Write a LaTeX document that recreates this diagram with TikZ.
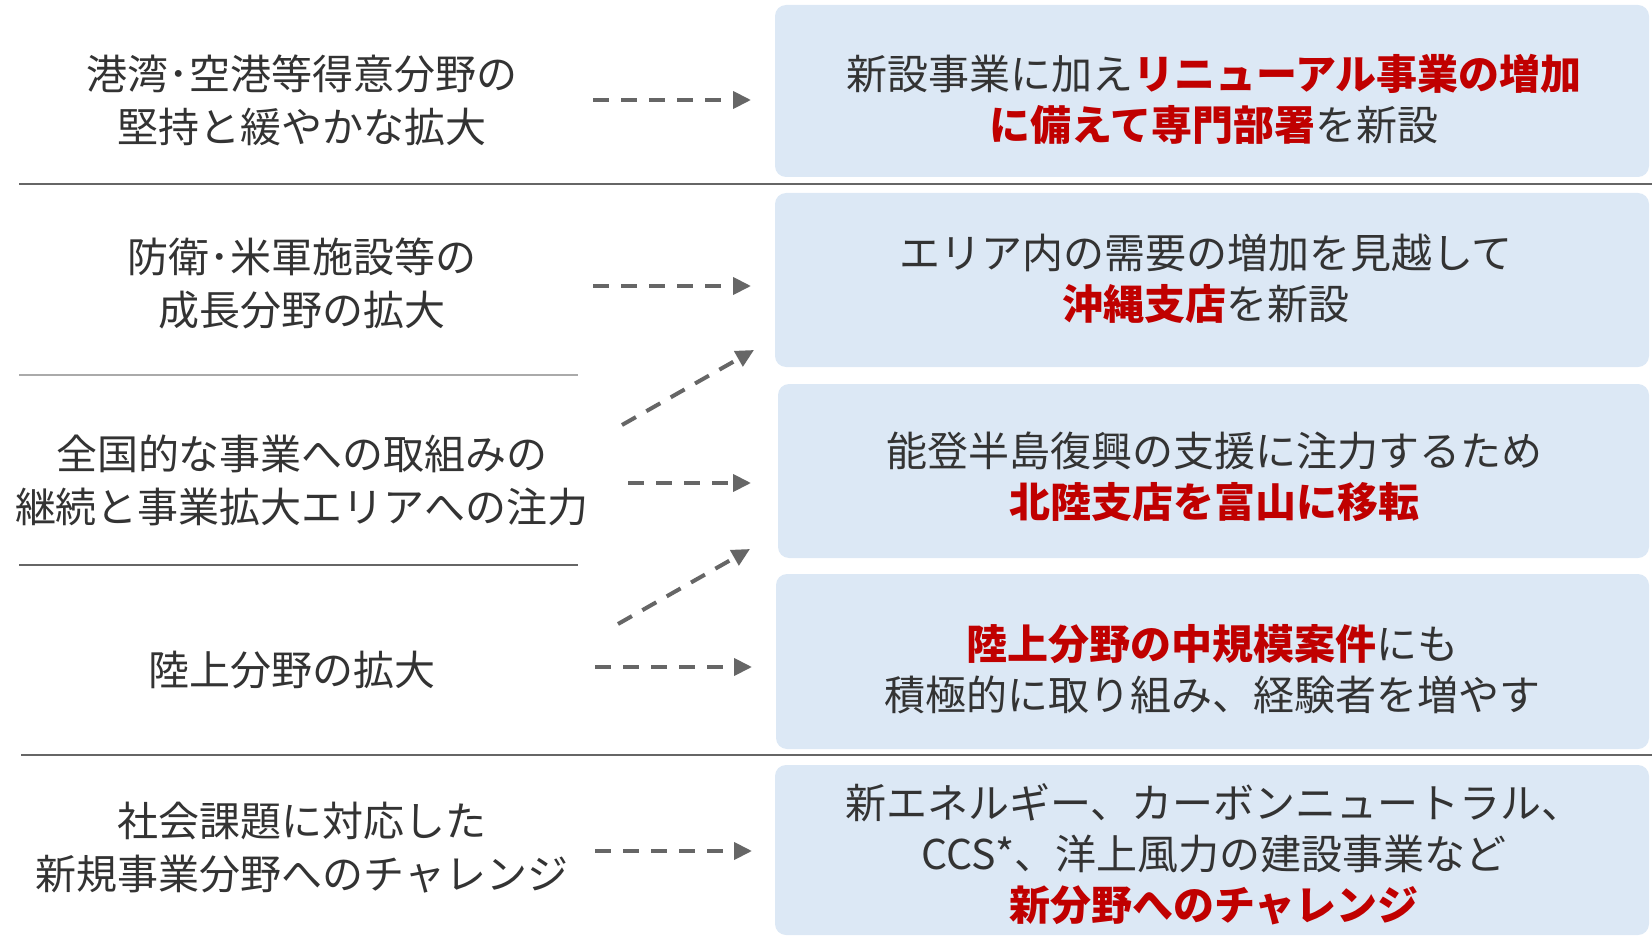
\documentclass[tikz,border=0pt]{standalone}
\usepackage{fontspec}
\setmainfont{Noto Sans CJK JP}
\usetikzlibrary{arrows.meta}
\definecolor{txt}{HTML}{333333}
\definecolor{accent}{HTML}{C00000}
\definecolor{boxfill}{HTML}{DCE8F5}
\definecolor{arr}{HTML}{666666}
\definecolor{sepdark}{HTML}{666666}
\definecolor{seplight}{HTML}{AAAAAA}
\newcommand\rd[1]{\textbf{\color{accent}#1}}
\tikzset{
  bluebox/.style={fill=boxfill, draw=none, rounded corners=11pt, inner sep=0pt},
  lbl/.style={align=center, text=txt, inner sep=0pt, font=\fontsize{41pt}{53pt}\selectfont},
  rbl/.style={align=center, text=txt, inner sep=0pt, font=\fontsize{41pt}{51pt}\selectfont},
  darrow/.style={draw=arr, line width=4pt, dash pattern=on 16pt off 12pt,
     -{Triangle[length=18pt,width=17pt]}},
  sepline/.style={draw=sepdark, line width=2pt},
  seplite/.style={draw=seplight, line width=2pt}
}
\begin{document}
\begin{tikzpicture}[x=1pt,y=-1pt]
\useasboundingbox (0,0) rectangle (1652,936);
% boxes
\path[bluebox] (775,5) rectangle (1649,177);
\path[bluebox] (775,193) rectangle (1649,367);
\path[bluebox] (778,384) rectangle (1649,558);
\path[bluebox] (776,574) rectangle (1649,749);
\path[bluebox] (775,765) rectangle (1649,935);
% separators
\draw[sepline] (19,184) -- (1652,184);
\draw[seplite] (19,375) -- (578,375);
\draw[sepline] (19,565) -- (578,565);
\draw[sepline] (21,755) -- (1652,755);
% left labels
\node[lbl] (l1) at (302,100) {港湾･空港等得意分野の\\堅持と緩やかな拡大};
\node[lbl] (l2) at (302,283) {防衛･米軍施設等の\\成長分野の拡大};
\node[lbl] (l3) at (302,480) {全国的な事業への取組みの\\継続と事業拡大エリアへの注力};
\node[lbl] (l4) at (292,670) {陸上分野の拡大};
\node[lbl] (l5) at (302,848) {社会課題に対応した\\新規事業分野へのチャレンジ};
% right labels
\node[rbl] (r1) at (1214,99) {新設事業に加え\rd{リニューアル事業の増加}\\\rd{に備えて専門部署}を新設};
\node[rbl] (r2) at (1206,279) {エリア内の需要の増加を見越して\\\rd{沖縄支店}を新設};
\node[rbl] (r3) at (1214,477) {能登半島復興の支援に注力するため\\\rd{北陸支店を富山に移転}};
\node[rbl] (r4) at (1212,669) {\rd{陸上分野の中規模案件}にも\\積極的に取り組み、経験者を増やす};
\node[rbl] (r5) at (1214,854) {新エネルギー、カーボンニュートラル、\\CCS*、洋上風力の建設事業など\\\rd{新分野へのチャレンジ}};
% arrow end points
\coordinate (a1s) at (593,100);  \coordinate (a1e) at (751,100);
\coordinate (a2s) at (593,286);  \coordinate (a2e) at (751,286);
\coordinate (a3s) at (622,425);  \coordinate (a3e) at (754,350);
\coordinate (a4s) at (628,483);  \coordinate (a4e) at (751,483);
\coordinate (a5s) at (618,624);  \coordinate (a5e) at (750,549);
\coordinate (a6s) at (595,667);  \coordinate (a6e) at (752,667);
\coordinate (a7s) at (595,851);  \coordinate (a7e) at (752,851);
\draw[darrow] (a1s) -- (a1e);
\draw[darrow] (a2s) -- (a2e);
\draw[darrow] (a3s) -- (a3e);
\draw[darrow] (a4s) -- (a4e);
\draw[darrow] (a5s) -- (a5e);
\draw[darrow] (a6s) -- (a6e);
\draw[darrow] (a7s) -- (a7e);
\end{tikzpicture}
\end{document}
